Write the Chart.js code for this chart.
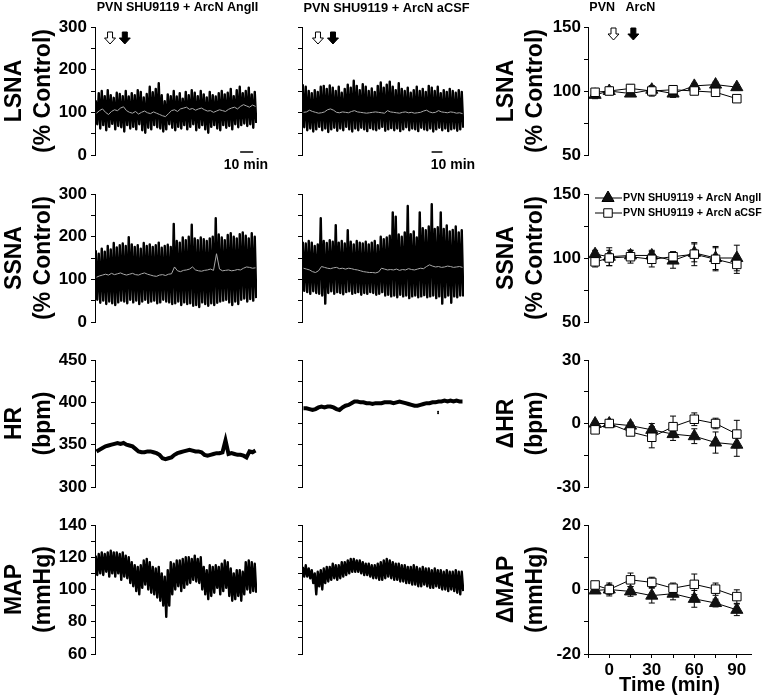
<!DOCTYPE html>
<html>
<head>
<meta charset="utf-8">
<script src="https://cdn.jsdelivr.net/npm/chart.js@4.4.0/dist/chart.umd.min.js"></script>
<style>
  body { margin: 0; background: #fff; }
  #fig { position: relative; width: 766px; height: 700px; }
  canvas { position: absolute; }
</style>
</head>
<body>
<div id="fig"></div>
<script>
// ---- raw recordings (54 bins each, minutes shown per column) ----
var spanAng = 125;
var spanCsf = 150;

var lsnaAngHi = [128,145,150,138,152,140,134,146,143,138, 150,137,145,140,152,148,135,143,160,147,
  155,168,140,126,142,138,150,137,145,132, 148,140,152,146,138,150,142,135,148,140,
  137,145,150,142,146,155,138,152,160,145, 150,158,142,148];
var lsnaAngLo = [72,62,70,58,66,73,60,68,65,55, 70,62,66,60,72,58,52,64,60,70,
  65,62,55,60,72,64,58,66,62,70, 60,66,72,58,64,70,60,52,66,70,
  62,58,70,64,68,60,72,65,70,74, 68,72,64,75];
var lsnaAngMean = [98,104,108,100,95,102,106,104,110,113, 104,100,98,102,96,100,103,99,97,101,
  98,95,92,90,97,104,106,102,108,110, 112,107,109,105,108,110,106,103,104,100,
  103,106,104,102,107,110,112,108,114,118, 115,112,117,114];

var lsnaCsfHi = [166,160,150,145,152,148,160,162,155,163, 158,150,160,146,155,165,158,174,162,152,
  166,160,150,156,148,162,170,158,165,172, 160,152,168,155,150,158,146,152,160,150,
  155,148,162,158,150,160,145,152,148,155, 150,146,152,148];
var lsnaCsfLo = [65,58,62,55,60,66,58,62,54,60, 64,57,62,58,66,60,55,62,58,64,
  60,56,63,60,58,62,66,57,60,63, 58,62,56,60,65,58,62,60,56,64,
  60,58,62,55,60,64,58,62,56,60, 62,57,60,64];
var lsnaCsfMean = [100,101,105,102,100,98,99,101,106,108, 105,100,99,101,100,99,102,104,101,100,
  99,98,99,100,101,100,99,98,104,101, 100,99,98,100,101,99,100,98,99,100,
  103,105,101,99,100,104,101,100,99,101, 100,98,99,97];

var ssnaAngHi = [168,160,172,165,178,170,185,175,180,184, 178,199,182,176,180,172,185,178,182,176,
  180,186,174,178,181,176,230,190,186,198, 192,200,228,196,192,198,194,190,196,200,
  243,205,198,192,204,208,200,196,206,210, 202,196,208,200];
var ssnaAngLo = [52,45,50,42,48,44,40,46,50,48, 44,52,46,50,42,48,52,45,48,50,
  44,46,52,48,46,42,44,48,40,46, 42,44,38,40,35,46,42,38,44,40,
  45,48,50,52,46,40,48,42,52,55, 48,54,50,56];
var ssnaAngMean = [105,108,110,112,110,114,111,113,115,112, 110,112,114,111,110,113,115,112,110,108,
  107,110,111,109,112,113,129,120,118,121, 122,124,129,122,120,119,121,122,124,121,
  160,124,120,121,122,120,121,123,122,126, 129,128,126,127];

var ssnaCsfHi = [188,184,190,186,178,182,243,190,185,192, 188,227,186,190,184,215,188,182,190,186,
  184,188,182,186,190,180,200,194,198,202, 257,247,205,200,210,272,206,212,198,257,
  220,215,224,276,218,222,257,218,226,212, 216,224,210,215];
var ssnaCsfLo = [73,70,66,72,68,66,62,43,68,72, 66,70,68,65,70,72,66,68,70,64,
  68,66,70,68,64,66,70,62,64,60, 62,58,64,60,62,56,60,62,58,60,
  63,58,60,62,56,60,43,58,62,45, 60,58,62,60];
var ssnaCsfMean = [126,124,122,118,116,120,130,128,126,125, 127,128,125,126,124,126,125,123,122,120,
  118,117,116,116,115,117,126,124,122,123, 122,124,121,123,122,125,123,122,124,126,
  125,130,134,131,129,130,128,129,131,130, 128,129,130,128];

var hrAng = [342,344,346,348,349,350,351,352,351,352, 350,349,348,345,342,341,341,342,342,341,
  340,338,334,333,334,335,338,340,341,342, 343,344,343,342,342,341,338,337,338,339,
  340,340,341,355,339,340,339,338,338,337, 335,342,341,343];
var hrCsf = [393,393,392,391,392,394,395,394,395,395, 394,392,391,394,396,397,399,401,401,400,
  400,399,399,398,399,399,399,400,400,400, 399,400,401,400,399,398,397,396,396,397,
  398,399,399,400,400,401,401,402,401,402, 401,402,401,401];
var hrCsfStrayT = [126, 126];
var hrCsfStray = [389, 387];

var mapAngLo = [109,110,109,111,108,110,108,110,106,108, 107,104,102,99,97,101,103,100,98,97,
  95,93,90,83,90,97,100,102,99,101, 103,104,106,105,104,100,97,94,96,98,
  101,97,99,101,96,93,94,96,93,97, 100,98,99,98];
var mapAngHi = [121,122,123,122,123,124,123,123,122,123, 121,120,117,115,114,115,118,119,117,114,
  113,114,110,108,112,117,116,118,118,119, 120,120,119,121,119,120,114,112,115,114,
  115,114,116,118,117,113,110,112,112,111, 117,118,117,116];
var mapCsfLo = [108,108,107,104,97,102,100,104,105,106, 107,106,107,108,109,110,111,111,111,110,
  109,109,108,107,107,106,106,107,108,107, 106,106,105,105,104,104,103,103,102,102,
  103,102,101,101,102,101,100,100,99,100, 99,98,97,99];
var mapCsfHi = [114,115,113,112,110,111,112,113,114,114, 116,115,115,117,117,118,119,119,118,118,
  117,116,116,115,115,116,117,118,119,118, 117,116,116,115,115,114,114,115,114,113,
  114,113,113,112,113,112,112,111,112,111, 111,112,111,111];

// ---- group summary (mean +/- SE) ----
var timePoints = [-10, 0, 15, 30, 45, 60, 75, 90];
var lsnaAngII = [97, 100, 98, 101, 98, 104, 105, 103];
var lsnaAngIIErr = [3, 2, 2, 3, 3, 2, 2, 2];
var lsnaACSF = [99, 100, 102, 100, 101, 100, 99, 94];
var lsnaACSFErr = [3, 3, 3, 4, 3, 2, 2, 2];
var ssnaAngII = [103, 101, 102, 102, 98, 104, 100, 100];
var ssnaAngIIErr = [3, 7, 4, 4, 6, 7, 9, 10];
var ssnaACSF = [97, 100, 101, 99, 101, 103, 99, 95];
var ssnaACSFErr = [4, 6, 5, 6, 4, 9, 9, 7];
var dHrAngII = [0, 0, -1, -3, -5, -6, -9, -10];
var dHrAngIIErr = [1, 1, 1.5, 3, 3, 3.5, 5, 5.5];
var dHrACSF = [-3, 0, -4, -6.5, -1.5, 2, 0, -5];
var dHrACSFErr = [1.5, 1.5, 1.5, 5, 5, 3, 2.5, 6.5];
var dMapAngII = [-0.3, 0, -0.6, -1.9, -1.3, -2.9, -4.2, -6.3];
var dMapAngIIErr = [0.8, 1.5, 1.5, 2.3, 1.9, 2.6, 1.2, 1.8];
var dMapACSF = [1.4, 0, 3, 2.2, 0.4, 1.6, 0.1, -2.2];
var dMapACSFErr = [1, 2, 2.1, 1.6, 1.6, 3.2, 1.9, 2.1];

// tick labels
var nerveTicks = [0, 100, 200, 300];
var hrTicks = [300, 350, 400, 450];
var mapTicks = [60, 80, 100, 120, 140];
var pctTicks = [50, 100, 150];
var dHrTicks = [-30, 0, 30];
var dMapTicks = [-20, 0, 20];
var timeTicks = [0, 30, 60, 90];

var angLabel = 'PVN SHU9119 + ArcN AngII';
var csfLabel = 'PVN SHU9119 + ArcN aCSF';

var FONT = '"Liberation Sans", Arial, sans-serif';
var fig = document.getElementById('fig');

function drawArrow(ctx, x, y, filled) {
  ctx.beginPath();
  ctx.moveTo(x - 2.5, y - 6);
  ctx.lineTo(x + 2.5, y - 6);
  ctx.lineTo(x + 2.5, y);
  ctx.lineTo(x + 5.5, y);
  ctx.lineTo(x, y + 6);
  ctx.lineTo(x - 5.5, y);
  ctx.lineTo(x - 2.5, y);
  ctx.closePath();
  ctx.lineWidth = 1;
  ctx.fillStyle = filled ? '#000' : '#fff';
  ctx.fill();
  ctx.stroke();
  ctx.fillStyle = '#000';
}

// titles, arrows, scale bar, legend (spec held in a closure, one plugin per chart)
function makeDecor(o) {
  return {
    id: 'decor',
    afterDraw: function (chart) {
      var ctx = chart.ctx, xs = chart.scales.x, a = chart.chartArea;
      ctx.save();
      ctx.fillStyle = '#000';
      ctx.strokeStyle = '#000';
      (o.texts || []).forEach(function (t) {
        ctx.font = 'bold ' + t.size + 'px ' + FONT;
        ctx.textAlign = 'center';
        ctx.textBaseline = 'middle';
        var x = typeof t.at === 'number' ? xs.getPixelForValue(t.at) : (a.left + a.right) / 2 + (t.dx || 0);
        var y = (t.fromBottom ? a.bottom : a.top) + t.dy;
        ctx.fillText(t.text, x, y);
      });
      (o.arrows || []).forEach(function (ar) {
        drawArrow(ctx, xs.getPixelForValue(ar.at), a.top + ar.dy, ar.filled);
      });
      if (o.scaleBar) {
        var sy = a.bottom + o.scaleBar.dy;
        ctx.lineWidth = 1.5;
        ctx.beginPath();
        ctx.moveTo(xs.getPixelForValue(o.scaleBar.from), sy);
        ctx.lineTo(xs.getPixelForValue(o.scaleBar.to), sy);
        ctx.stroke();
      }
      (o.legend || []).forEach(function (l) {
        var y = a.top + l.dy;
        ctx.lineWidth = 1;
        ctx.beginPath();
        ctx.moveTo(a.left + 7, y);
        ctx.lineTo(a.left + 34, y);
        ctx.stroke();
        ctx.fillStyle = l.fill;
        Chart.helpers.drawPoint(ctx, { pointStyle: l.style, radius: l.radius, rotation: 0, borderWidth: 1 }, a.left + 20, y);
        ctx.fillStyle = '#000';
        ctx.font = 'bold 10.7px ' + FONT;
        ctx.textAlign = 'left';
        ctx.textBaseline = 'middle';
        ctx.fillText(l.text, a.left + 35, y + 0.5);
      });
      ctx.restore();
    }
  };
}

// error bars under the markers
var errorBars = {
  id: 'errorBars',
  beforeDatasetsDraw: function (chart) {
    var ctx = chart.ctx, xs = chart.scales.x, ys = chart.scales.y;
    ctx.save();
    ctx.strokeStyle = '#000';
    ctx.lineWidth = 1;
    chart.data.datasets.forEach(function (ds) {
      if (!ds.errors) return;
      ds.data.forEach(function (p, i) {
        var x = xs.getPixelForValue(p.x);
        var y1 = ys.getPixelForValue(p.y + ds.errors[i]);
        var y2 = ys.getPixelForValue(p.y - ds.errors[i]);
        ctx.beginPath();
        ctx.moveTo(x, y1); ctx.lineTo(x, y2);
        ctx.moveTo(x - 3, y1); ctx.lineTo(x + 3, y1);
        ctx.moveTo(x - 3, y2); ctx.lineTo(x + 3, y2);
        ctx.stroke();
      });
    });
    ctx.restore();
  }
};

function yAxis(min, max, step, labels, o) {
  return {
    min: min,
    max: max,
    afterFit: function (s) { s.width = o.width; },
    border: { display: true, color: '#000', width: 1 },
    grid: { display: true, drawOnChartArea: false, drawTicks: true, tickLength: 4, color: '#000' },
    ticks: {
      stepSize: step,
      autoSkip: false,
      includeBounds: false,
      padding: o.pad,
      color: '#000',
      font: { family: FONT, size: 17, weight: 'bold' },
      callback: function (v) { return o.show && labels.indexOf(v) >= 0 ? String(v) : ''; }
    },
    title: o.title ? {
      display: true, text: o.title, color: '#000', padding: 0,
      font: { family: FONT, size: 23, weight: 'bold', lineHeight: 1.26 }
    } : { display: false }
  };
}

function binX(i, n, span) { return (i + 0.5) * span / n; }

// raw signal: swings from each bin's high to its low
function zigzag(lo, hi, span, width) {
  var w = span / lo.length, pts = [];
  lo.forEach(function (v, i) {
    var t = binX(i, lo.length, span);
    pts.push({ x: t - w / 4, y: hi[i] }, { x: t + w / 4, y: v });
  });
  return {
    type: 'line', data: pts, borderColor: '#000', borderWidth: width,
    pointRadius: 0, tension: 0, borderJoinStyle: 'round', order: 2
  };
}

function trace(vals, span, color, width) {
  return {
    type: 'line',
    data: vals.map(function (v, i) { return { x: binX(i, vals.length, span), y: v }; }),
    borderColor: color, borderWidth: width, pointRadius: 0, tension: 0, order: 1
  };
}

function makeChart(left, top, w, h, pad, datasets, scales, decorOpts) {
  var c = document.createElement('canvas');
  c.width = w;
  c.height = h;
  c.style.left = left + 'px';
  c.style.top = top + 'px';
  fig.appendChild(c);
  return new Chart(c, {
    type: 'line',
    data: { datasets: datasets },
    options: {
      responsive: false,
      animation: false,
      events: [],
      layout: { padding: pad },
      plugins: { legend: { display: false }, tooltip: { enabled: false } },
      scales: scales
    },
    plugins: [makeDecor(decorOpts || {}), errorBars]
  });
}

function traceX(span) { return { type: 'linear', min: 0, max: span, display: false, offset: false }; }

// rows: canvas top, height, padding
var rows = [
  { top: 0, h: 175, pt: 27, pb: 20 },
  { top: 179, h: 158, pt: 15, pb: 15 },
  { top: 345, h: 157, pt: 15, pb: 15 },
  { top: 510, h: 159, pt: 15, pb: 15 }
];

function col1(r, datasets, y, d) {
  return makeChart(0, rows[r].top, 275, rows[r].h, { left: 0, right: 18, top: rows[r].pt, bottom: rows[r].pb },
    datasets, { x: traceX(spanAng), y: y }, d);
}
function col2(r, datasets, y, d) {
  return makeChart(290, rows[r].top, 190, rows[r].h, { left: 0, right: 16, top: rows[r].pt, bottom: rows[r].pb },
    datasets, { x: traceX(spanCsf), y: y }, d);
}

var c1 = { width: 95, pad: 4, show: true };
var c2 = { width: 12, pad: 0, show: false };
function withTitle(base, title) { return Object.assign({}, base, { title: title }); }

var NERVE_W = 2.4;

// column 1: AngII raw
col1(0, [zigzag(lsnaAngLo, lsnaAngHi, spanAng, NERVE_W), trace(lsnaAngMean, spanAng, '#a8a8a8', 1)],
  yAxis(0, 300, 50, nerveTicks, withTitle(c1, ['LSNA', '(% Control)'])),
  { texts: [{ text: angLabel, size: 12.5, dx: 1.5, dy: -19 }, { text: '10 min', size: 14, at: 116.5, fromBottom: true, dy: 10 }],
    arrows: [{ at: 11.6, dy: 11, filled: false }, { at: 23, dy: 11, filled: true }],
    scaleBar: { from: 112, to: 122, dy: -3 } });
col1(1, [zigzag(ssnaAngLo, ssnaAngHi, spanAng, NERVE_W), trace(ssnaAngMean, spanAng, '#a8a8a8', 1)],
  yAxis(0, 300, 50, nerveTicks, withTitle(c1, ['SSNA', '(% Control)'])));
col1(2, [trace(hrAng, spanAng, '#000', 4)],
  yAxis(300, 450, 25, hrTicks, withTitle(c1, ['HR', '(bpm)'])));
col1(3, [zigzag(mapAngLo, mapAngHi, spanAng, NERVE_W)],
  yAxis(60, 140, 10, mapTicks, withTitle(c1, ['MAP', '(mmHg)'])));

// column 2: aCSF raw
col2(0, [zigzag(lsnaCsfLo, lsnaCsfHi, spanCsf, NERVE_W), trace(lsnaCsfMean, spanCsf, '#a8a8a8', 1)],
  yAxis(0, 300, 50, nerveTicks, c2),
  { texts: [{ text: csfLabel, size: 12.8, dx: 3.5, dy: -19 }, { text: '10 min', size: 14, at: 139.8, fromBottom: true, dy: 10 }],
    arrows: [{ at: 14.8, dy: 11, filled: false }, { at: 28.7, dy: 11, filled: true }],
    scaleBar: { from: 120, to: 130, dy: -3 } });
col2(1, [zigzag(ssnaCsfLo, ssnaCsfHi, spanCsf, NERVE_W), trace(ssnaCsfMean, spanCsf, '#a8a8a8', 1)],
  yAxis(0, 300, 50, nerveTicks, c2));
col2(2, [trace(hrCsf, spanCsf, '#000', 4),
  { type: 'line', showLine: false, data: hrCsfStrayT.map(function (t, i) { return { x: t, y: hrCsfStray[i] }; }),
    pointRadius: 1, pointBorderWidth: 0, pointBackgroundColor: '#000', order: 0 }],
  yAxis(300, 450, 25, hrTicks, c2));
col2(3, [zigzag(mapCsfLo, mapCsfHi, spanCsf, NERVE_W)],
  yAxis(60, 140, 10, mapTicks, c2));

// column 3: group summary
function pts(vals) { return vals.map(function (v, i) { return { x: timePoints[i], y: v }; }); }
function groupSets(ang, angErr, csf, csfErr) {
  return [
    { type: 'line', label: csfLabel, data: pts(csf), errors: csfErr, borderColor: '#000', borderWidth: 1,
      pointStyle: 'rect', pointRadius: 6, pointBackgroundColor: '#fff', pointBorderColor: '#000', pointBorderWidth: 1,
      tension: 0, order: 0 },
    { type: 'line', label: angLabel, data: pts(ang), errors: angErr, borderColor: '#000', borderWidth: 1,
      pointStyle: 'triangle', pointRadius: 7, pointBackgroundColor: '#111', pointBorderColor: '#111', pointBorderWidth: 1,
      tension: 0, order: 1 }
  ];
}
var c3 = { width: 96, pad: 3, show: true };
var timeX = { type: 'linear', min: -15, max: 100, display: false, offset: false };
var timeXShown = {
  type: 'linear', min: -15, max: 100, offset: false,
  afterFit: function (s) { s.height = 46; },
  border: { display: true, color: '#000', width: 1 },
  grid: { display: true, drawOnChartArea: false, drawTicks: true, tickLength: 4, color: '#000' },
  ticks: {
    stepSize: 15, autoSkip: false, includeBounds: false, maxRotation: 0, padding: 2, color: '#000',
    font: { family: FONT, size: 17, weight: 'bold' },
    callback: function (v) { return timeTicks.indexOf(v) >= 0 ? String(v) : ''; }
  },
  title: { display: true, text: 'Time (min)', color: '#000', padding: { top: 0, bottom: 3 },
    font: { family: FONT, size: 20, weight: 'bold', lineHeight: 1.2 } }
};

function col3(r, datasets, y, d, x, h, pb) {
  return makeChart(492, rows[r].top, 274, h || rows[r].h, { left: 0, right: 15, top: rows[r].pt, bottom: pb === undefined ? rows[r].pb : pb },
    datasets, { x: x || timeX, y: y }, d);
}

col3(0, groupSets(lsnaAngII, lsnaAngIIErr, lsnaACSF, lsnaACSFErr),
  yAxis(50, 150, 25, pctTicks, withTitle(c3, ['LSNA', '(% Control)'])),
  { texts: [{ text: 'PVN', size: 12.5, at: -5, dy: -19 }, { text: 'ArcN', size: 12.5, at: 22, dy: -19 }],
    arrows: [{ at: 3, dy: 7, filled: false }, { at: 17, dy: 7, filled: true }] });
col3(1, groupSets(ssnaAngII, ssnaAngIIErr, ssnaACSF, ssnaACSFErr),
  yAxis(50, 150, 25, pctTicks, withTitle(c3, ['SSNA', '(% Control)'])),
  { legend: [{ text: angLabel, style: 'triangle', radius: 7, fill: '#111', dy: 4 },
             { text: csfLabel, style: 'rect', radius: 6, fill: '#fff', dy: 19 }] });
col3(2, groupSets(dHrAngII, dHrAngIIErr, dHrACSF, dHrACSFErr),
  yAxis(-30, 30, 15, dHrTicks, withTitle(c3, ['\u0394HR', '(bpm)'])));
col3(3, groupSets(dMapAngII, dMapAngIIErr, dMapACSF, dMapACSFErr),
  yAxis(-20, 20, 10, dMapTicks, withTitle(c3, ['\u0394MAP', '(mmHg)'])),
  {}, timeXShown, 190, 0);
</script>
</body>
</html>
